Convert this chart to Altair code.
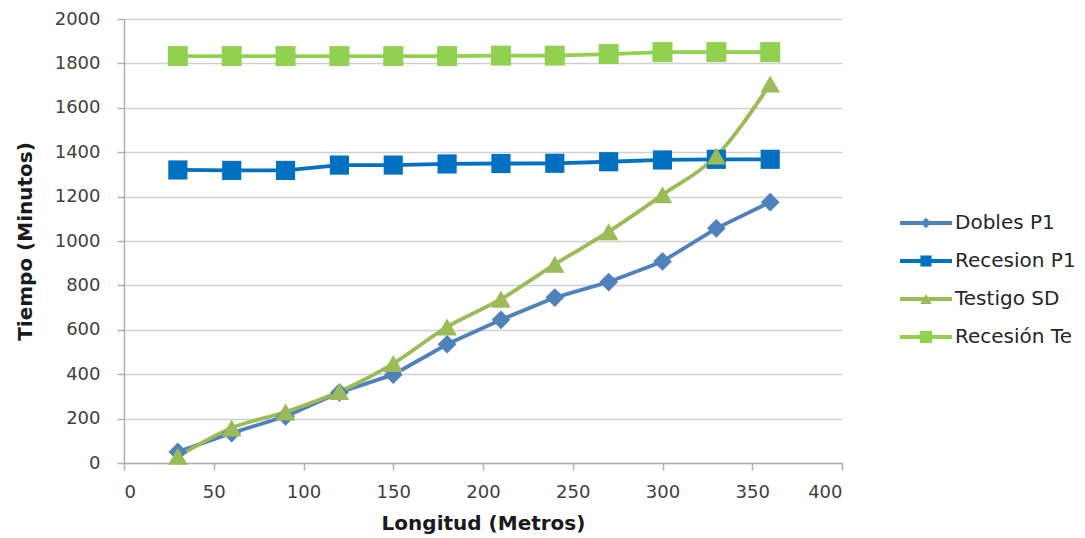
import altair as alt
import pandas as pd

# Distance along the furrow (m)
longitud = [30, 60, 90, 120, 150, 180, 210, 240, 270, 300, 330, 360]

# Advance / recession times (min)
dobles_p1 = [50, 135, 210, 318, 398, 535, 645, 745, 815, 908, 1057, 1175]
recesion_p1 = [1320, 1318, 1318, 1342, 1342, 1347, 1349, 1350, 1357, 1365, 1368, 1368]
testigo_sd = [30, 158, 230, 322, 448, 613, 738, 895, 1042, 1208, 1383, 1707]
recesion_te = [1833, 1833, 1833, 1833, 1833, 1833, 1835, 1835, 1842, 1851, 1851, 1851]

series = ["Dobles P1", "Recesion P1", "Testigo SD", "Recesión Te"]
colors = ["#4F81BD", "#0070C0", "#9BBB59", "#92D050"]
shapes = ["diamond", "square", "triangle-up", "square"]
marker_sizes = [350, 400, 484, 400]
legend_sizes = [110, 150, 210, 150]

values = [dobles_p1, recesion_p1, testigo_sd, recesion_te]
df = pd.DataFrame(
    [
        {"serie": s, "longitud": x, "tiempo": v}
        for s, vals in zip(series, values)
        for x, v in zip(longitud, vals)
    ]
)
leg = pd.DataFrame({"serie": series})

FONT = "DejaVu Sans"
color = alt.Color("serie:N", scale=alt.Scale(domain=series, range=colors), legend=None)
shape = alt.Shape("serie:N", scale=alt.Scale(domain=series, range=shapes), legend=None)

x_enc = alt.X(
    "longitud:Q",
    scale=alt.Scale(domain=[0, 400], nice=False),
    axis=alt.Axis(
        values=list(range(0, 401, 50)),
        format="d",
        title="Longitud (Metros)",
        grid=False,
        tickSize=7,
        labelPadding=13,
        titleX=359,
        titleY=60,
        titleBaseline="middle",
        titleAlign="center",
    ),
)
y_enc = alt.Y(
    "tiempo:Q",
    scale=alt.Scale(domain=[0, 2000], nice=False),
    axis=alt.Axis(
        values=list(range(0, 2001, 200)),
        format="d",
        title="Tiempo (Minutos)",
        grid=True,
        tickSize=7,
        labelPadding=17,
        titleX=-99,
        titleY=222,
        titleAngle=-90,
        titleBaseline="middle",
        titleAlign="center",
    ),
)

base = alt.Chart(df).encode(x=x_enc, y=y_enc, color=color)

lines = base.mark_line(strokeWidth=3.8).encode(detail="serie:N").transform_filter(
    alt.datum.serie != "Testigo SD"
)
smooth = base.mark_line(strokeWidth=3.8, interpolate="monotone").transform_filter(
    alt.datum.serie == "Testigo SD"
)
points = base.mark_point(filled=True, opacity=1).encode(
    shape=shape,
    size=alt.Size("serie:N", scale=alt.Scale(domain=series, range=marker_sizes), legend=None),
)

main = alt.layer(lines, smooth, points)

# Legend drawn to the right of the plot
leg_y = alt.Y(
    "serie:N",
    scale=alt.Scale(type="point", domain=series, range=[204, 318], padding=0),
    axis=None,
)
leg_base = alt.Chart(leg)
leg_rule = leg_base.mark_rule(strokeWidth=3.8).encode(
    x=alt.value(776), x2=alt.value(828), y=leg_y, color=color
)
leg_pt = leg_base.mark_point(filled=True, opacity=1).encode(
    x=alt.value(802),
    y=leg_y,
    color=color,
    shape=shape,
    size=alt.Size("serie:N", scale=alt.Scale(domain=series, range=legend_sizes), legend=None),
)
leg_txt = leg_base.mark_text(
    align="left", baseline="middle", font=FONT, fontSize=20, color="#262626"
).encode(x=alt.value(831), y=leg_y, text="serie:N")

legend = alt.layer(leg_rule, leg_pt, leg_txt)

chart = (
    alt.layer(main, legend)
    .resolve_scale(y="independent", size="independent")
    .properties(
        width=718,
        height=444,
        autosize=alt.AutoSizeParams(type="none"),
        padding={"left": 124, "top": 19, "right": 243, "bottom": 75},
        background="white",
    )
    .configure_view(stroke=None)
    .configure_axis(
        labelFont=FONT,
        labelFontSize=18,
        labelColor="#404040",
        titleFont=FONT,
        titleFontSize=20,
        titleFontWeight="bold",
        titleColor="#1a1a1a",
        domainColor="#B0B0B0",
        domainWidth=1.5,
        tickColor="#B0B0B0",
        tickWidth=1.5,
        gridColor="#D0D0D0",
        gridWidth=1.5,
    )
)

chart.save("out.html", embed_options={"renderer": "svg", "actions": False})
